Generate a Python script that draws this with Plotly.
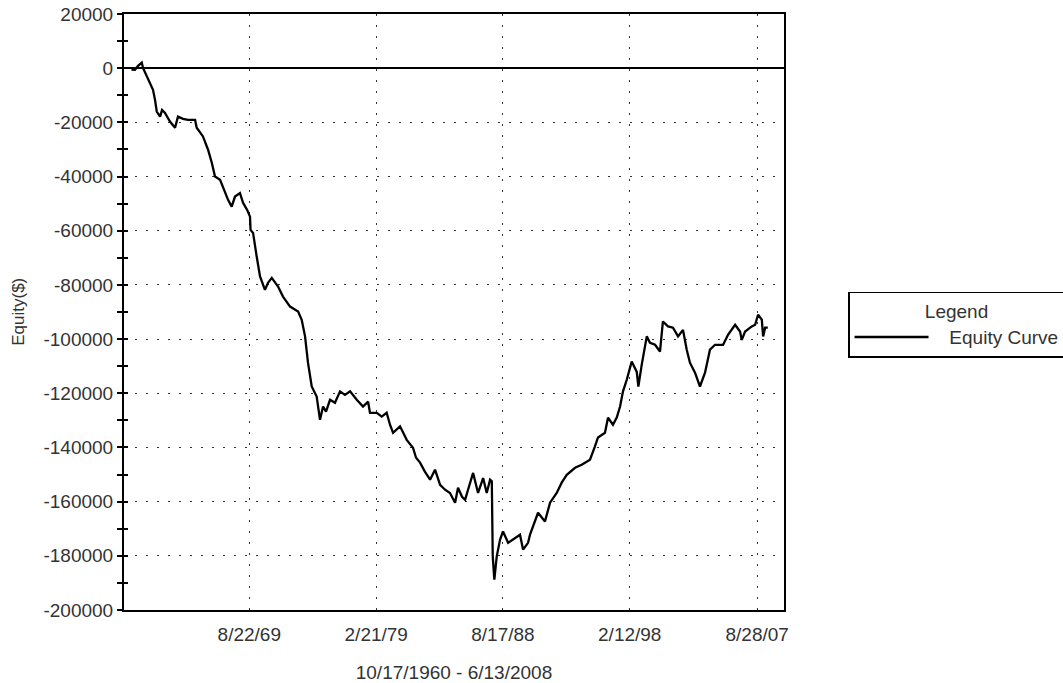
import pandas as pd
import plotly.graph_objects as go

# ---- data ----
year_frac = [
    1960.82, 1961.08, 1961.31, 1961.59, 1961.68, 1961.90, 1962.21, 1962.43, 1962.58, 1962.71,
    1962.96, 1963.11, 1963.33, 1963.70, 1964.08, 1964.30, 1964.68, 1965.05, 1965.58, 1965.70,
    1966.17, 1966.55, 1966.83, 1967.07, 1967.45, 1967.82, 1968.05, 1968.32, 1968.57, 1968.94,
    1969.17, 1969.47, 1969.69, 1969.73, 1969.92, 1970.19, 1970.44, 1970.81, 1971.04, 1971.32,
    1971.79, 1972.16, 1972.69, 1973.29, 1973.56, 1973.81, 1974.03, 1974.31, 1974.68, 1974.93,
    1975.16, 1975.38, 1975.68, 1976.05, 1976.43, 1976.80, 1977.18, 1977.68, 1978.15, 1978.53,
    1978.67, 1979.18, 1979.55, 1979.92, 1980.17, 1980.40, 1980.92, 1981.42, 1981.89, 1982.12,
    1982.42, 1982.79, 1983.17, 1983.54, 1983.92, 1984.29, 1984.66, 1985.04, 1985.26, 1985.56,
    1985.79, 1986.01, 1986.39, 1986.76, 1987.14, 1987.41, 1987.66, 1987.79, 1987.86, 1987.98,
    1988.16, 1988.41, 1988.63, 1989.01, 1989.53, 1989.90, 1990.13, 1990.50, 1990.65, 1990.88,
    1991.25, 1991.77, 1992.15, 1992.65, 1993.02, 1993.40, 1994.02, 1994.52, 1995.14, 1995.51,
    1995.74, 1996.26, 1996.49, 1996.86, 1997.14, 1997.39, 1997.61, 1997.89, 1998.26, 1998.64,
    1998.76, 1999.01, 1999.39, 1999.63, 2000.01, 2000.38, 2000.60, 2000.98, 2001.35, 2001.73,
    2002.10, 2002.38, 2002.62, 2003.00, 2003.37, 2003.75, 2004.12, 2004.50, 2005.10, 2005.47,
    2006.00, 2006.37, 2006.50, 2006.75, 2007.25, 2007.50, 2007.72, 2008.00, 2008.10, 2008.25,
    2008.45,
]
equity = [
    -500, -600, 850, 2070, 100, -2100, -5400, -8000, -11700, -16000,
    -17900, -15400, -16500, -19700, -22000, -17900, -18700, -19100, -19100, -22000,
    -25200, -30100, -34900, -40000, -41200, -46000, -48600, -51100, -47400, -46100,
    -49700, -52300, -54800, -59700, -60800, -69500, -76900, -81800, -79200, -77400,
    -80600, -84300, -88000, -89800, -92900, -99000, -108700, -117500, -121200, -129800,
    -124900, -126800, -122400, -123500, -119300, -120600, -119300, -122400, -124900, -123100,
    -127200, -127200, -128600, -127200, -131600, -134600, -132200, -137200, -140100, -143800,
    -145600, -149000, -151900, -148200, -153800, -155600, -156800, -160400, -154900, -158200,
    -159300, -155600, -149400, -156800, -151300, -156800, -151900, -152500, -180200, -188800,
    -180200, -174000, -171000, -175200, -173300, -172200, -177700, -175200, -172200, -169100,
    -164100, -167300, -160400, -156800, -153000, -150100, -147500, -146400, -144500, -139600,
    -136300, -134600, -129000, -131600, -129000, -124900, -119300, -115000, -108300, -112100,
    -117500, -109500, -99000, -101400, -102100, -104600, -93500, -95300, -95800, -99000,
    -96600, -103900, -108700, -112400, -117500, -112400, -103900, -102100, -102100, -98400,
    -94700, -97200, -100300, -97200, -95300, -94700, -91000, -92800, -99000, -95800,
    -95800,
]
x_tick_dates = ["1969-08-22", "1979-02-21", "1988-08-17", "1998-02-12", "2007-08-28"]
x_tick_labels = ["8/22/69", "2/21/79", "8/17/88", "2/12/98", "8/28/07"]
y_tick_values = [20000, 0, -20000, -40000, -60000, -80000, -100000, -120000,
                 -140000, -160000, -180000, -200000]
y_tick_labels = ["20000", "0", "-20000", "-40000", "-60000", "-80000", "-100000",
                 "-120000", "-140000", "-160000", "-180000", "-200000"]
series_name = "Equity Curve"
legend_title = "Legend"
x_title = "10/17/1960 - 6/13/2008"
y_title = "Equity($)"


def frac_to_date(y):
    yi = int(y)
    return pd.Timestamp(year=yi, month=1, day=1) + pd.Timedelta(days=(y - yi) * 365.25)


dates = [frac_to_date(v) for v in year_frac]
x_range = [frac_to_date(1960.26), frac_to_date(2009.66)]

FONT = "Liberation Sans, Arial, sans-serif"
TXT = "#333333"
NBSP = "\u00a0"

fig = go.Figure()
fig.add_trace(go.Scatter(x=dates, y=equity, mode="lines", name=NBSP * 3 + series_name,
                         line=dict(color="black", width=2.3)))
# invisible copy on an overlay axis so the y ticks can cross the axis line
fig.add_trace(go.Scatter(x=dates, y=equity, mode="lines", yaxis="y2", showlegend=False,
                         hoverinfo="skip", line=dict(color="rgba(0,0,0,0)", width=0)))

fig.update_layout(
    width=1063, height=683,
    margin=dict(l=124, r=279, t=14, b=73, autoexpand=False),
    paper_bgcolor="white", plot_bgcolor="white",
    font=dict(family=FONT, size=19, color=TXT),
    showlegend=True,
    legend=dict(
        x=1.097, y=0.5336, xanchor="left", yanchor="top",
        bordercolor="black", borderwidth=1.5, bgcolor="white",
        title=dict(text=legend_title, side="top center", font=dict(size=19, color=TXT)),
        font=dict(size=19, color=TXT),
        itemwidth=74,
    ),
    xaxis=dict(
        type="date", range=x_range, automargin=False,
        tickvals=x_tick_dates, ticktext=x_tick_labels,
        ticks="", ticklabelstandoff=6,
        showgrid=True, gridcolor="#333333", griddash="2px,9px", gridwidth=1,
        showline=True, linecolor="black", linewidth=2, mirror=True,
        zeroline=False,
        title=dict(text=x_title, standoff=24, font=dict(size=19, color=TXT)),
        tickfont=dict(size=19, color=TXT),
    ),
    yaxis=dict(
        range=[-200000, 20000], automargin=False,
        tickvals=y_tick_values, ticktext=y_tick_labels,
        ticks="outside", ticklen=5, tickwidth=1.5, tickcolor="black",
        minor=dict(dtick=10000, tick0=0, ticks="outside", ticklen=5, tickwidth=1.5,
                   tickcolor="black", showgrid=False),
        showgrid=True, gridcolor="#333333", griddash="2px,9px", gridwidth=1,
        showline=True, linecolor="black", linewidth=2, mirror=True,
        zeroline=True, zerolinecolor="black", zerolinewidth=1.5,
        tickfont=dict(size=19, color=TXT),
    ),
    yaxis2=dict(
        overlaying="y", side="left", anchor="x", automargin=False,
        range=[-200000, 20000], tickvals=y_tick_values,
        showticklabels=False, ticks="inside", ticklen=4, tickwidth=1.5, tickcolor="black",
        minor=dict(dtick=10000, tick0=0, ticks="inside", ticklen=4, tickwidth=1.5,
                   tickcolor="black", showgrid=False),
        showgrid=False, zeroline=False, showline=False,
    ),
    annotations=[dict(
        text=y_title, textangle=-90, xref="paper", yref="paper",
        x=-0.161, y=0.5, xanchor="center", yanchor="middle", showarrow=False,
        font=dict(size=17, color=TXT),
    )],
)

fig.write_html(
    "out.html",
    config={"displayModeBar": False},
    post_script="document.body.style.margin='0';document.body.style.overflow='hidden';",
)
